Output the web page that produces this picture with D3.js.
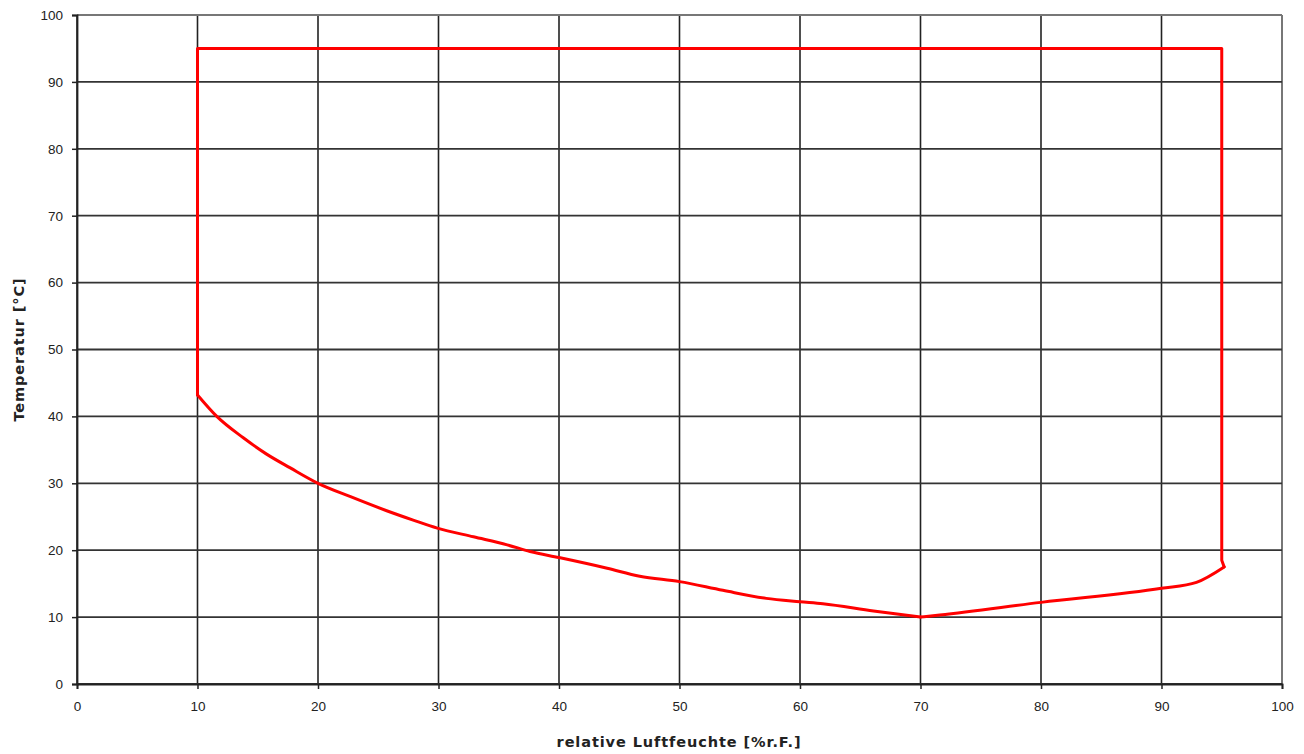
<!DOCTYPE html>
<html>
<head>
<meta charset="utf-8">
<script src="https://cdn.jsdelivr.net/npm/d3@7"></script>
<style>
  body { margin: 0; background: #fff; }
  svg { display: block; font-family: "Liberation Sans", Arial, sans-serif; }
</style>
</head>
<body>
<svg id="chart" width="1304" height="754"></svg>
<script>
// Achsenbereiche und Ticks
const xTicks = [0, 10, 20, 30, 40, 50, 60, 70, 80, 90, 100];
const yTicks = [0, 10, 20, 30, 40, 50, 60, 70, 80, 90, 100];

// Rahmen oben: rel. Feuchte [%r.F.] / Temperatur [°C]
const boxHumidity = [10, 10, 95, 95, 95.2];
const boxTemperature = [43.2, 95, 95, 18.5, 17.5];

// rechter Ast (95 -> 70 %r.F.)
const rightHumidity = [95.2, 92.9, 90, 80, 71.6, 70];
const rightTemperature = [17.5, 15.2, 14.3, 12.2, 10.3, 10];

// untere Grenzkurve (10 -> 70 %r.F.)
const curveHumidity = [
  10, 11.6, 13.8, 15.7, 17.7, 20, 22.7, 25.7, 27.9, 29.9, 32.9, 35.7, 37.6,
  40, 44, 46.7, 50, 53.6, 57.2, 60, 61.9, 66.1, 70
];
const curveTemperature = [
  43.2, 40, 36.8, 34.4, 32.3, 30, 28, 25.9, 24.5, 23.3, 22, 20.8, 19.8,
  18.9, 17.3, 16.1, 15.3, 14, 12.8, 12.3, 12, 10.9, 10
];

const margin = { top: 15, right: 22, bottom: 70, left: 77 };
const width = 1304, height = 754;

const svg = d3.select("#chart");

const x = d3.scaleLinear().domain([0, 100]).range([margin.left, width - margin.right]);
const y = d3.scaleLinear().domain([0, 100]).range([height - margin.bottom, margin.top]);

// Gitterlinien
svg.append("g")
  .selectAll("line")
  .data(xTicks)
  .join("line")
  .attr("x1", d => x(d)).attr("x2", d => x(d))
  .attr("y1", y(100)).attr("y2", y(0))
  .attr("stroke", d => d === 100 ? "#555" : "#222")
  .attr("stroke-width", 1.6);

svg.append("g")
  .selectAll("line")
  .data(yTicks)
  .join("line")
  .attr("x1", x(0)).attr("x2", x(100))
  .attr("y1", d => y(d)).attr("y2", d => y(d))
  .attr("stroke", d => d === 100 ? "#777" : "#333")
  .attr("stroke-width", 1.8);

// Achsen
const xAxis = svg.append("g")
  .attr("transform", `translate(0,${y(0)})`)
  .call(d3.axisBottom(x).tickValues(xTicks).tickSize(5).tickPadding(12));

const yAxis = svg.append("g")
  .attr("transform", `translate(${x(0)},0)`)
  .call(d3.axisLeft(y).tickValues(yTicks).tickSize(5).tickPadding(9));

[xAxis, yAxis].forEach(a => {
  a.select(".domain").attr("stroke", "#222").attr("stroke-width", 1.8);
  a.selectAll(".tick line").attr("stroke", "#222").attr("stroke-width", 1.5);
  a.selectAll(".tick text")
    .attr("font-size", 13.5)
    .attr("fill", "#222")
    .attr("font-family", "Liberation Sans, Arial, sans-serif");
});

// Kurvenzüge
const straight = d3.line().x(d => x(d[0])).y(d => y(d[1]));
const smooth = d3.line().x(d => x(d[0])).y(d => y(d[1])).curve(d3.curveMonotoneX);

const zipPts = (hs, ts) => hs.map((h, i) => [h, ts[i]]);

function drawLine(pts, gen) {
  svg.append("path")
    .datum(pts)
    .attr("d", gen)
    .attr("fill", "none")
    .attr("stroke", "#ff0000")
    .attr("stroke-width", 3)
    .attr("stroke-linejoin", "round")
    .attr("stroke-linecap", "round");
}

drawLine(zipPts(boxHumidity, boxTemperature), straight);
drawLine(zipPts(rightHumidity, rightTemperature), smooth);
drawLine(zipPts(curveHumidity, curveTemperature), smooth);

// Achsentitel
svg.append("text")
  .attr("x", 679)
  .attr("y", 747)
  .attr("text-anchor", "middle")
  .attr("font-family", "DejaVu Sans, Verdana, sans-serif")
  .attr("font-size", 14.5)
  .attr("letter-spacing", 0.9)
  .attr("font-weight", "bold")
  .attr("fill", "#222")
  .text("relative Luftfeuchte [%r.F.]");

svg.append("text")
  .attr("transform", `translate(24,${y(50)}) rotate(-90)`)
  .attr("text-anchor", "middle")
  .attr("font-family", "DejaVu Sans, Verdana, sans-serif")
  .attr("font-size", 14.5)
  .attr("letter-spacing", 0.9)
  .attr("font-weight", "bold")
  .attr("fill", "#222")
  .text("Temperatur [°C]");
</script>
</body>
</html>
